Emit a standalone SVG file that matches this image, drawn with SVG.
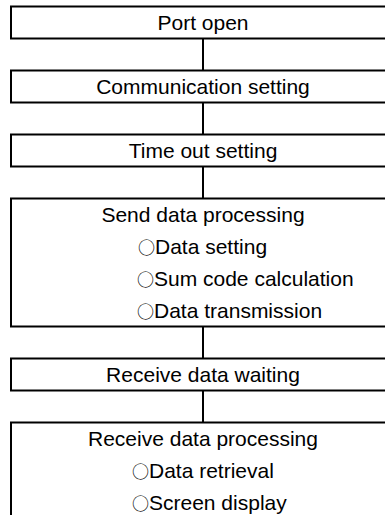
<svg xmlns="http://www.w3.org/2000/svg" width="385" height="515" viewBox="0 0 385 515">
<style>
.box{fill:#fff;stroke:#000;stroke-width:2}
.t{font-family:"Liberation Sans",Arial,"Noto Sans CJK JP",sans-serif;font-size:21px;fill:#000}
.c{text-anchor:middle}
.o{font-family:"Noto Sans CJK JP",sans-serif;font-size:17px}
.ln{stroke:#000;stroke-width:2;fill:none}
</style>
<rect width="385" height="515" fill="#fff"/>
<g id="connectors">
<line class="ln" x1="203" y1="38.5" x2="203" y2="70.5"/>
<line class="ln" x1="203" y1="102.5" x2="203" y2="134.5"/>
<line class="ln" x1="203" y1="166.5" x2="203" y2="198.5"/>
<line class="ln" x1="203" y1="326.5" x2="203" y2="358.5"/>
<line class="ln" x1="203" y1="390.5" x2="203" y2="422.5"/>
</g>
<g id="port-open">
<rect class="box" x="11" y="6.5" width="390" height="32"/>
<text class="t c" x="203" y="30">Port open</text>
</g>
<g id="communication-setting">
<rect class="box" x="11" y="70.5" width="390" height="32"/>
<text class="t c" x="203" y="94">Communication setting</text>
</g>
<g id="time-out-setting">
<rect class="box" x="11" y="134.5" width="390" height="32"/>
<text class="t c" x="203" y="158">Time out setting</text>
</g>
<g id="send-data-processing">
<rect class="box" x="11" y="198.5" width="390" height="128"/>
<text class="t c" x="203" y="222">Send data processing</text>
<text class="t" x="138" y="254"><tspan class="o">○</tspan>Data setting</text>
<text class="t" x="137" y="286"><tspan class="o">○</tspan>Sum code calculation</text>
<text class="t" x="137" y="318"><tspan class="o">○</tspan>Data transmission</text>
</g>
<g id="receive-data-waiting">
<rect class="box" x="11" y="358.5" width="390" height="32"/>
<text class="t c" x="203" y="382">Receive data waiting</text>
</g>
<g id="receive-data-processing">
<rect class="box" x="11" y="422.5" width="390" height="130"/>
<text class="t c" x="203" y="446">Receive data processing</text>
<text class="t" x="132" y="478"><tspan class="o">○</tspan>Data retrieval</text>
<text class="t" x="132" y="510"><tspan class="o">○</tspan>Screen display</text>
</g>
</svg>
